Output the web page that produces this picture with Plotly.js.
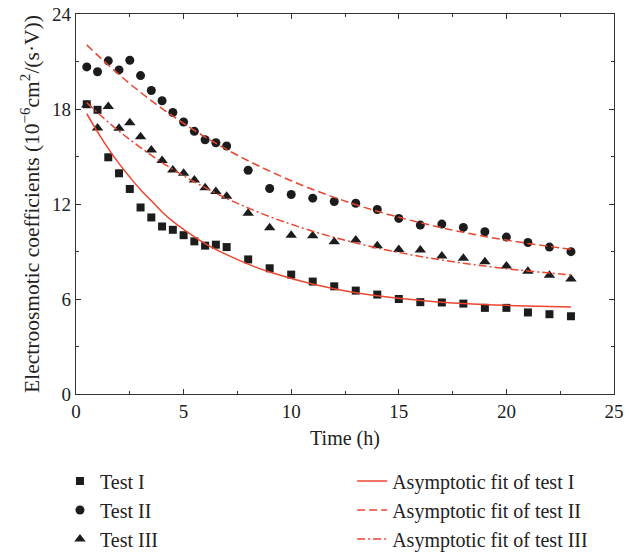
<!DOCTYPE html>
<html>
<head>
<meta charset="utf-8">
<script src="https://cdn.plot.ly/plotly-3.0.1.min.js"></script>
<style>html,body{margin:0;padding:0;background:#fff;}#chart{width:638px;height:552px;}</style>
</head>
<body>
<div id="chart"></div>
<script>
// Measurement times (h)
const timeH = [0.5,1,1.5,2,2.5,3,3.5,4,4.5,5,5.5,6,6.5,7,8,9,10,11,12,13,14,15,16,17,18,19,20,21,22,23];
// Measured electroosmotic coefficients (10^-6 cm^2/(s·V))
const testI   = [18.3,17.95,14.95,13.94,12.95,11.78,11.15,10.58,10.37,10.03,9.64,9.37,9.43,9.28,8.5,7.94,7.54,7.1,6.8,6.53,6.28,6.0,5.8,5.78,5.71,5.44,5.44,5.15,5.04,4.91];
const testII  = [20.66,20.35,21.04,20.47,21.08,20.11,19.17,18.52,17.78,17.18,16.59,16.06,15.87,15.66,14.13,12.98,12.6,12.37,12.16,12.05,11.65,11.09,10.67,10.73,10.52,10.25,9.91,9.57,9.28,8.99];
const testIII = [18.25,16.8,18.16,16.78,17.13,16.25,15.41,14.74,14.15,13.94,13.52,13.02,12.79,12.49,11.42,10.5,10.02,10.0,9.61,9.72,9.37,9.13,9.09,8.71,8.57,8.36,8.09,7.75,7.5,7.26];
// Fitted curves
const fitTime = [0.5,1,1.5,2,2.5,3,3.5,4,4.5,5,6,7,8,9,10,11,12,13,14,15,16,17,18,19,20,21,22,23];
const fitI   = [17.7,16.55,15.5,14.55,13.7,12.9,12.2,11.5,10.9,10.4,9.5,8.8,8.2,7.7,7.3,6.95,6.65,6.4,6.2,6.04,5.91,5.8,5.72,5.65,5.6,5.56,5.53,5.5];
const fitII  = [22.05,21.4,20.78,20.18,19.6,19.05,18.53,18.03,17.55,17.09,16.23,15.45,14.73,14.08,13.47,12.92,12.42,11.96,11.54,11.16,10.82,10.5,10.21,9.95,9.72,9.51,9.32,9.14];
const fitIII = [18.4,17.77,17.17,16.6,16.07,15.56,15.08,14.62,14.19,13.78,13.03,12.35,11.75,11.2,10.72,10.28,9.89,9.54,9.22,8.94,8.69,8.46,8.26,8.08,7.91,7.77,7.64,7.52];

const FONT = 'Liberation Serif, Times New Roman, serif';
const RED = '#ec4530';
const BLACK = '#1c1c1c';

const traces = [
  {x: timeH, y: testI, mode: 'markers', name: 'Test I', legend: 'legend',
   marker: {symbol: 'square', size: 8, color: BLACK}},
  {x: timeH, y: testII, mode: 'markers', name: 'Test II', legend: 'legend',
   marker: {symbol: 'circle', size: 9, color: BLACK}},
  {x: timeH, y: testIII, mode: 'markers', name: 'Test III', legend: 'legend',
   marker: {symbol: 'triangle-up', size: 10, color: BLACK}},
  {x: fitTime, y: fitI, mode: 'lines', name: 'Asymptotic fit of test I', legend: 'legend2',
   line: {color: RED, width: 1.5, shape: 'spline'}},
  {x: fitTime, y: fitII, mode: 'lines', name: 'Asymptotic fit of test II', legend: 'legend2',
   line: {color: RED, width: 1.5, dash: '8px,4px', shape: 'spline'}},
  {x: fitTime, y: fitIII, mode: 'lines', name: 'Asymptotic fit of test III', legend: 'legend2',
   line: {color: RED, width: 1.5, dash: '8px,3px,2px,3px', shape: 'spline'}}
];

const axisCommon = {
  showgrid: false, zeroline: false,
  showline: true, linecolor: '#333', linewidth: 1.2, mirror: 'ticks',
  ticks: 'inside', ticklen: 5, tickwidth: 1, tickcolor: '#333',
  tickfont: {family: FONT, size: 19, color: '#222'}
};

const legendCommon = {
  xref: 'container', yref: 'container', xanchor: 'left', y: 0.164, yanchor: 'top',
  orientation: 'h', entrywidthmode: 'pixels', entrywidth: 420,
  bgcolor: 'rgba(0,0,0,0)', font: {family: FONT, size: 20, color: '#222'}
};

const layout = {
  width: 638, height: 552,
  margin: {l: 76, r: 24, t: 14, b: 158},
  paper_bgcolor: '#fff', plot_bgcolor: '#fff',
  font: {family: FONT, color: '#222'},
  showlegend: true,
  xaxis: Object.assign({}, axisCommon, {
    range: [0, 25], tick0: 0, dtick: 5,
    minor: {dtick: 2.5, ticks: 'inside', ticklen: 3, tickcolor: '#333'},
    title: {text: 'Time (h)', font: {family: FONT, size: 20, color: '#222'}, standoff: 10}
  }),
  yaxis: Object.assign({}, axisCommon, {
    range: [0, 24], tick0: 0, dtick: 6,
    minor: {dtick: 3, ticks: 'inside', ticklen: 3, tickcolor: '#333'},
    title: {text: 'Electroosmotic coefficients (10<sup>−6</sup>cm<sup>2</sup>/(s·V))',
            font: {family: FONT, size: 21.5, color: '#222'}, standoff: 6}
  }),
  legend: Object.assign({}, legendCommon, {x: 0.094}),
  legend2: Object.assign({}, legendCommon, {x: 0.552})
};

Plotly.newPlot('chart', traces, layout, {displayModeBar: false, staticPlot: true});
</script>
</body>
</html>
